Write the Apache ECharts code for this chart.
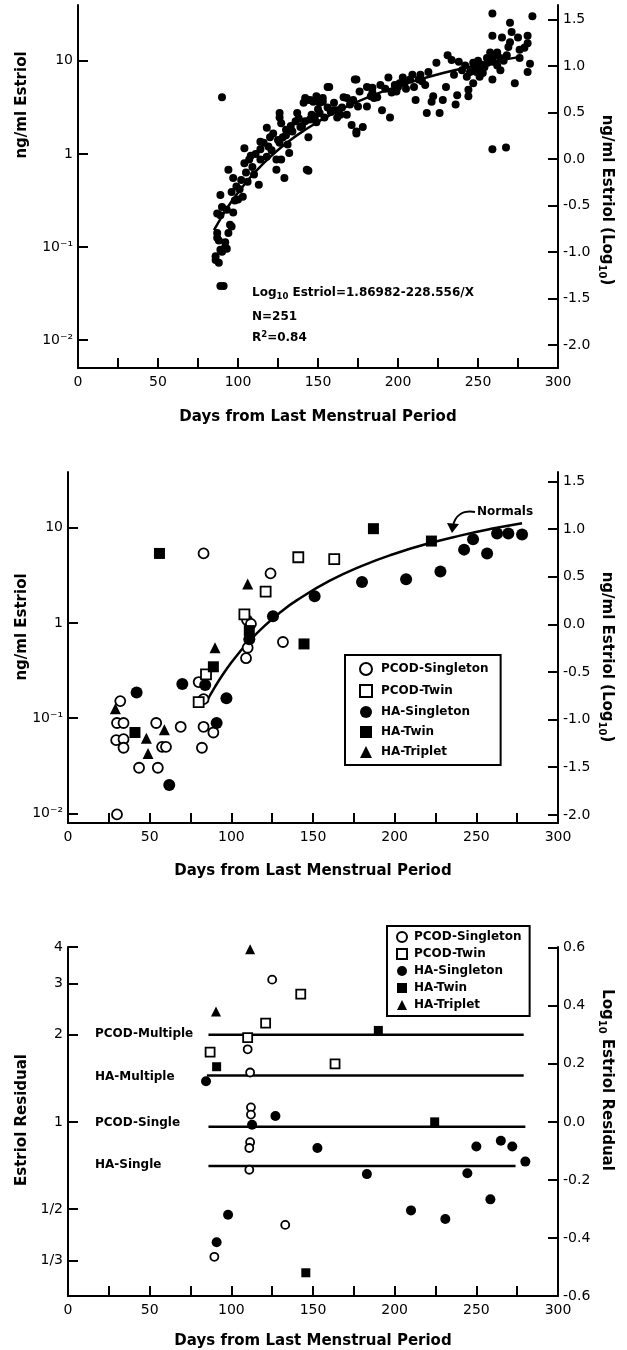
<!DOCTYPE html>
<html>
<head>
<meta charset="utf-8">
<title>Estriol</title>
<script src="https://cdn.jsdelivr.net/npm/echarts@6/dist/echarts.min.js"></script>
<style>
html, body { margin: 0; padding: 0; background: #fff; }
#main { width: 627px; height: 1350px; }
</style>
</head>
<body>
<div id="main"></div>
<script>
var FONT = 'DejaVu Sans';

//图1 正常妊娠 [天数, log10 雌三醇]
var normalPoints = [
    [86, -1.14], [88, -1.17], [89, -1.03], [92, -1.0], [88, -0.93], [92, -0.95], [87, -0.85], [94, -0.85],
    [96, -0.78], [89, -0.66], [97, -0.63], [90, -0.57], [89, -0.44], [91, -1.42], [89, -1.42], [87, -0.64],
    [95, -0.76], [100, -0.49], [103, -0.46], [97, -0.26], [94, -0.17], [96, -0.41], [99, -0.35], [102, -0.28],
    [105, -0.2], [104, 0.06], [90, 0.61], [87, -0.9], [90, -1.05], [93, -1.02], [86, -1.1], [98, -0.5], [93, -0.6],
    [107, -0.06], [109, -0.14], [113, -0.33], [114, -0.06], [114, 0.05], [114, 0.13], [118, 0.28], [118, -0.03],
    [121, 0.04], [124, -0.17], [124, -0.06], [126, 0.12], [125, 0.15], [128, 0.18], [126, 0.44], [126, 0.39],
    [130, 0.26], [127, 0.33], [129, -0.26], [132, 0.01], [127, -0.06], [134, 0.24], [137, 0.44], [139, 0.29],
    [143, -0.17], [141, 0.55], [142, 0.6], [104, -0.1], [108, -0.02], [111, 0.0], [116, 0.12], [120, 0.18],
    [122, 0.22], [130, 0.2], [133, 0.3], [136, 0.35], [138, 0.38], [110, -0.22], [106, -0.3], [101, -0.38],
    [119, 0.08], [131, 0.1],
    [145, 0.58], [149, 0.62], [153, 0.56], [145, 0.37], [151, 0.44], [149, 0.59], [153, 0.6], [157, 0.72],
    [156, 0.72], [162, 0.47], [168, 0.42], [171, 0.31], [174, 0.22], [174, 0.8], [143, 0.58], [147, 0.56],
    [151, 0.55], [144, 0.18], [149, 0.34], [154, 0.39], [159.6, 0.47], [164, 0.42], [162, 0.39], [166, 0.61],
    [170, 0.53], [175, 0.51], [173, 0.8], [176, 0.67], [144, -0.18], [178, 0.29], [174, 0.24], [146, 0.42],
    [150, 0.48], [156, 0.5], [158, 0.45], [160, 0.55], [165, 0.5], [168, 0.6], [172, 0.58], [140, 0.3],
    [142, 0.35], [148, 0.4],
    [180.6, 0.51], [180.6, 0.72], [184, 0.71], [184, 0.66], [187, 0.61], [189, 0.74], [190, 0.47], [194, 0.82],
    [195, 0.39], [196, 0.66], [198, 0.74], [199, 0.67], [201, 0.76], [203, 0.82], [204, 0.76], [207.5, 0.8],
    [209, 0.85], [211, 0.58], [213, 0.8], [214, 0.85], [217, 0.74], [218, 0.44], [219, 0.88], [221, 0.56],
    [222, 0.62], [224, 0.98], [226, 0.44], [228, 0.58], [230, 0.72], [185, 0.6], [192, 0.7], [205, 0.7],
    [210, 0.72], [215, 0.78], [200, 0.72], [183, 0.62],
    [231, 1.06], [233.5, 1.01], [236, 0.53], [237, 0.63], [238, 0.99], [243, 0.83], [244, 0.69], [244, 0.62],
    [245, 0.88], [247, 0.98], [247, 0.76], [248, 0.94], [251, 0.83], [252, 0.96], [252.5, 0.92], [253, 0.87],
    [255.6, 1.03], [257.6, 1.09], [259, 0.99], [259, 0.8], [259, 1.27], [259, 1.51], [259, 0.05], [262, 1.09],
    [264, 1.03], [265, 1.25], [267.5, 0.07], [269, 1.15], [270, 1.2], [270, 1.41], [271, 1.31], [273, 0.76],
    [275, 1.25], [276, 1.12], [276, 1.03], [279, 1.14], [281, 1.19], [281, 1.27], [281, 0.88], [282.5, 0.97],
    [284, 1.48], [240, 0.9], [250, 1.0], [256, 0.98], [260, 1.05], [262, 0.95], [266, 1.0], [268, 1.06],
    [254, 0.93], [264, 0.9], [235, 0.85], [242, 0.95], [249, 0.88]
];

//回归曲线 Log10 Estriol = 1.86982 - 228.556/X（逐点读取）
var curveDays = [85, 90, 95, 100, 105, 110, 120, 130, 140, 160, 180, 200, 220, 240, 260, 278];
var curveLog = [-0.819, -0.670, -0.536, -0.416, -0.307, -0.208, -0.035, 0.112, 0.237, 0.441, 0.600, 0.727, 0.831, 0.917, 0.991, 1.048];

//图2 PCOD / HA 妊娠 [天数, log10 雌三醇]
var pcodSingleton2 = [
    [83, 0.73], [124, 0.52], [109.6, 0.03], [112, -0.01], [131.6, -0.2], [110, -0.26], [109, -0.37],
    [32, -0.82], [30, -1.05], [34, -1.05], [29.5, -1.23], [34, -1.22], [34, -1.31], [43.5, -1.52],
    [54, -1.05], [57.6, -1.3], [60, -1.3], [55, -1.52], [30, -2.01], [69, -1.09], [83, -1.09],
    [89, -1.15], [82, -1.31], [80, -0.62], [83, -0.8]
];
var pcodTwin2 = [[141, 0.69], [121, 0.33], [108, 0.09], [163, 0.67], [80, -0.83], [84.5, -0.54]];
var haSingleton2 = [
    [125.5, 0.07], [151, 0.28], [111, -0.17], [242.5, 0.77], [248, 0.88], [256.6, 0.73], [262.7, 0.94],
    [269.6, 0.94], [278, 0.93], [228, 0.54], [207, 0.46], [180, 0.43], [42, -0.73], [62, -1.7],
    [70, -0.64], [91, -1.05], [97, -0.79], [84, -0.65]
];
var haTwin2 = [[56, 0.73], [144.5, -0.22], [89, -0.46], [187, 0.99], [222.5, 0.86], [41, -1.15], [111, -0.08]];
var haTriplet2 = [[110, 0.41], [90, -0.26], [29, -0.9], [48, -1.21], [49, -1.37], [59, -1.12]];

//图3 残差 [天数, log10 残差]
var pcodSingleton3 = [
    [125, 0.49], [110, 0.25], [111.5, 0.17], [112, 0.05], [112, 0.025], [111.5, -0.07], [111, -0.09],
    [111, -0.165], [133, -0.355], [89.6, -0.465]
];
var pcodTwin3 = [[142.5, 0.44], [121, 0.34], [110, 0.29], [87, 0.24], [163.5, 0.2]];
var haSingleton3 = [
    [84.5, 0.14], [127, 0.02], [112.7, -0.01], [152.7, -0.09], [183, -0.18], [250, -0.085], [265, -0.065],
    [272, -0.085], [280, -0.137], [244.5, -0.177], [258.6, -0.267], [210, -0.305], [231, -0.335],
    [98, -0.32], [91, -0.415]
];
var haTwin3 = [[91, 0.19], [190, 0.315], [224.5, 0.0], [145.6, -0.52]];
var haTriplet3 = [[111.5, 0.595], [90.6, 0.38]];

//图3 分组均值线
var groupNames = ['PCOD-Multiple', 'HA-Multiple', 'PCOD-Single', 'HA-Single'];
var groupLevel = [0.30, 0.16, -0.017, -0.152];
var groupStart = [86, 85, 86, 86];
var groupEnd = [279, 279, 280, 274];

//刻度
var logTicks = [-2, -1, 0, 1];
var logTickLabels = ['10⁻²', '10⁻¹', '1', '10'];
var rightTicks = [-2, -1.5, -1, -0.5, 0, 0.5, 1, 1.5];
var residualTicks = [4, 3, 2, 1, 1 / 2, 1 / 3];
var residualLabels = ['4', '3', '2', '1', '1/2', '1/3'];
var residualLogTicks = [-0.6, -0.4, -0.2, 0, 0.2, 0.4, 0.6];

var legendNames = ['PCOD-Singleton', 'PCOD-Twin', 'HA-Singleton', 'HA-Twin', 'HA-Triplet'];

var myChart;

init();

function init() {
    myChart = echarts.init(document.getElementById('main'));
    myChart.setOption(buildOption());
}

//标签格式
function fmtPow(v) {
    for (var i = 0; i < logTicks.length; i++) {
        if (Math.abs(logTicks[i] - v) < 1e-6) return logTickLabels[i];
    }
    return '';
}
function fmtDec(v) {
    return v.toFixed(1);
}
function fmtRes(v) {
    for (var i = 0; i < residualTicks.length; i++) {
        if (Math.abs(Math.log10(residualTicks[i]) - v) < 1e-6) return residualLabels[i];
    }
    return '';
}

//横轴
function xAxisOf(gridIndex, nameGap) {
    return {
        type: 'value',
        gridIndex: gridIndex,
        min: 0,
        max: 300,
        interval: 25,
        name: 'Days from Last Menstrual Period',
        nameLocation: 'middle',
        nameGap: nameGap,
        nameTextStyle: { color: '#000', fontSize: 15, fontWeight: 'bold', fontFamily: FONT },
        axisLine: { onZero: false, lineStyle: { color: '#000', width: 2 } },
        axisTick: { inside: true, length: 10, lineStyle: { color: '#000', width: 2 } },
        axisLabel: {
            color: '#000', fontSize: 14, fontFamily: FONT, margin: 7,
            formatter: function (v) { return v % 50 === 0 ? String(v) : ''; }
        },
        splitLine: { show: false }
    };
}

//纵轴
function yAxisOf(gridIndex, position, min, max, ticks, fmt) {
    return {
        type: 'value',
        gridIndex: gridIndex,
        position: position,
        min: min,
        max: max,
        axisLine: { show: true, onZero: false, lineStyle: { color: '#000', width: 2 } },
        axisTick: { show: true, inside: true, length: 10, customValues: ticks, lineStyle: { color: '#000', width: 2 } },
        axisLabel: { color: '#000', fontSize: 14, fontFamily: FONT, margin: 5, customValues: ticks, formatter: fmt },
        splitLine: { show: false }
    };
}

function scatterOf(name, data, gi, symbol, size, open) {
    return {
        name: name,
        type: 'scatter',
        xAxisIndex: gi,
        yAxisIndex: gi * 2,
        data: data,
        symbol: symbol,
        symbolSize: size,
        itemStyle: open
            ? { color: '#fff', borderColor: '#000', borderWidth: 1.8, opacity: 1 }
            : { color: '#000', opacity: 1 },
        emphasis: { disabled: true },
        z: 3
    };
}

function pairs(xs, ys) {
    return xs.map(function (x, i) { return [x, ys[i]]; });
}

function rotatedTitle(x, y, text, rich, right) {
    return {
        type: 'text',
        x: x,
        y: y,
        rotation: right ? -Math.PI / 2 : Math.PI / 2,
        style: {
            text: text,
            rich: rich,
            fontSize: 15,
            fontWeight: 'bold',
            fontFamily: FONT,
            fill: '#000',
            align: 'center',
            verticalAlign: 'middle',
            textAlign: 'center',
            textVerticalAlign: 'middle'
        }
    };
}

function plainText(x, y, text, size, rich) {
    return {
        type: 'text',
        x: x,
        y: y,
        style: {
            text: text,
            rich: rich,
            fontSize: size,
            fontWeight: 'bold',
            fontFamily: FONT,
            fill: '#000',
            align: 'left',
            verticalAlign: 'middle',
            textAlign: 'left',
            textVerticalAlign: 'middle'
        }
    };
}

function buildOption() {
    var richLog = {
        m: { fontSize: 15, fontWeight: 'bold', fontFamily: FONT, lineHeight: 20, verticalAlign: 'middle' },
        s: { fontSize: 10, fontWeight: 'bold', fontFamily: FONT, lineHeight: 10, verticalAlign: 'bottom' }
    };
    var richSmall = {
        m: { fontSize: 12, fontWeight: 'bold', fontFamily: FONT, lineHeight: 16, verticalAlign: 'middle' },
        s: { fontSize: 8.5, fontWeight: 'bold', fontFamily: FONT, lineHeight: 8, verticalAlign: 'bottom' },
        p: { fontSize: 8.5, fontWeight: 'bold', fontFamily: FONT, lineHeight: 8, verticalAlign: 'top' }
    };

    var series = [];
    //图1
    series.push(scatterOf('normals', normalPoints, 0, 'circle', 8, false));
    series.push({
        type: 'line', xAxisIndex: 0, yAxisIndex: 0, data: pairs(curveDays, curveLog),
        smooth: true, showSymbol: false, lineStyle: { color: '#000', width: 2.5 }, z: 2
    });
    //图2
    series.push({
        type: 'line', xAxisIndex: 1, yAxisIndex: 2, data: pairs(curveDays, curveLog),
        smooth: true, showSymbol: false, lineStyle: { color: '#000', width: 2.5 }, z: 2
    });
    series.push(scatterOf('PCOD-Singleton', pcodSingleton2, 1, 'circle', 10, true));
    series.push(scatterOf('PCOD-Twin', pcodTwin2, 1, 'rect', 10, true));
    series.push(scatterOf('HA-Singleton', haSingleton2, 1, 'circle', 12, false));
    series.push(scatterOf('HA-Twin', haTwin2, 1, 'rect', 11, false));
    series.push(scatterOf('HA-Triplet', haTriplet2, 1, 'triangle', 11, false));
    //图3
    for (var g = 0; g < groupNames.length; g++) {
        series.push({
            type: 'line', xAxisIndex: 2, yAxisIndex: 4,
            data: [[groupStart[g], groupLevel[g]], [groupEnd[g], groupLevel[g]]],
            showSymbol: false, lineStyle: { color: '#000', width: 2.5 }, z: 2
        });
    }
    series.push(scatterOf('PCOD-Singleton', pcodSingleton3, 2, 'circle', 8, true));
    series.push(scatterOf('PCOD-Twin', pcodTwin3, 2, 'rect', 9, true));
    series.push(scatterOf('HA-Singleton', haSingleton3, 2, 'circle', 10, false));
    series.push(scatterOf('HA-Twin', haTwin3, 2, 'rect', 9, false));
    series.push(scatterOf('HA-Triplet', haTriplet3, 2, 'triangle', 10, false));

    var graphic = [
        //图1
        rotatedTitle(22, 105, 'ng/ml Estriol', null, false),
        rotatedTitle(607, 200, '{m|ng/ml Estriol (Log}{s|10}{m|)}', richLog, true),
        plainText(252, 293, '{m|Log}{s|10}{m| Estriol=1.86982-228.556/X}', 12, richSmall),
        plainText(252, 317, 'N=251', 12, null),
        plainText(252, 338, '{m|R}{p|2}{m|=0.84}', 12, richSmall),
        //图2
        rotatedTitle(22, 627, 'ng/ml Estriol', null, false),
        rotatedTitle(607, 657, '{m|ng/ml Estriol (Log}{s|10}{m|)}', richLog, true),
        plainText(477, 512, 'Normals', 12, null),
        {
            type: 'bezierCurve',
            shape: { x1: 475, y1: 512, cpx1: 462, cpy1: 510, cpx2: 455, cpy2: 516, x2: 453, y2: 526 },
            style: { stroke: '#000', lineWidth: 2, fill: null }
        },
        {
            type: 'polygon',
            shape: { points: [[447, 523], [459, 524], [452, 533]] },
            style: { fill: '#000' }
        },
        //图3
        rotatedTitle(22, 1120, 'Estriol Residual', null, false),
        rotatedTitle(607, 1080, '{m|Log}{s|10}{m| Estriol Residual}', richLog, true)
    ];
    var groupLabelY = [1034, 1077, 1123, 1165];
    for (var k = 0; k < groupNames.length; k++) {
        graphic.push(plainText(95, groupLabelY[k], groupNames[k], 12, null));
    }

    return {
        animation: false,
        backgroundColor: '#fff',
        textStyle: { fontFamily: FONT },
        grid: [
            { left: 78, top: 5, width: 480, height: 363 },
            { left: 68, top: 472, width: 490, height: 351 },
            { left: 68, top: 947, width: 490, height: 351 }
        ],
        xAxis: [xAxisOf(0, 42), xAxisOf(1, 41), xAxisOf(2, 38)],
        yAxis: [
            yAxisOf(0, 'left', -2.3, 1.6, logTicks, fmtPow),
            yAxisOf(0, 'right', -2.247, 1.656, rightTicks, fmtDec),
            yAxisOf(1, 'left', -2.1, 1.585, logTicks, fmtPow),
            yAxisOf(1, 'right', -2.085, 1.598, rightTicks, fmtDec),
            yAxisOf(2, 'left', -0.6, 0.6025, residualTicks.map(Math.log10), fmtRes),
            yAxisOf(2, 'right', -0.6, 0.6025, residualLogTicks, fmtDec)
        ],
        legend: [
            {
                data: legendNames, orient: 'vertical', left: 345, top: 655, selectedMode: false,
                borderColor: '#000', borderWidth: 2, padding: [7, 12, 7, 14], itemGap: 8,
                itemWidth: 12, itemHeight: 12,
                textStyle: { color: '#000', fontSize: 12, fontWeight: 'bold', fontFamily: FONT, padding: [0, 0, 0, 4] }
            },
            {
                data: legendNames, orient: 'vertical', left: 387, top: 926, selectedMode: false,
                borderColor: '#000', borderWidth: 2, padding: [5, 8, 5, 9], itemGap: 5,
                itemWidth: 10, itemHeight: 10,
                textStyle: { color: '#000', fontSize: 12, fontWeight: 'bold', fontFamily: FONT, padding: [0, 0, 0, 2] }
            }
        ],
        series: series,
        graphic: graphic
    };
}
</script>
</body>
</html>
